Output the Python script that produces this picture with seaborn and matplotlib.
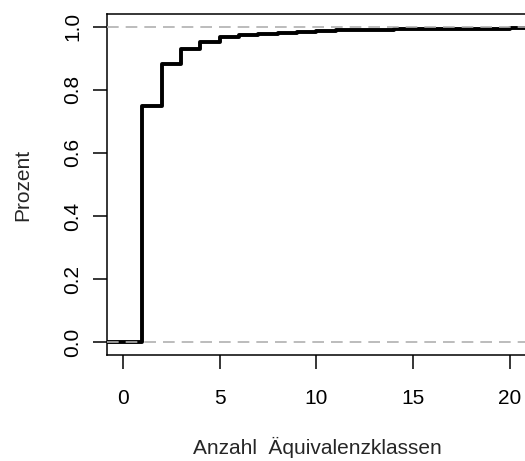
import matplotlib
matplotlib.use("Agg")
import matplotlib.pyplot as plt
import seaborn as sns
import pandas as pd

# Data: empirical CDF of number of equivalence classes
classes = list(range(1, 21))
ecdf = [0.750, 0.882, 0.929, 0.952, 0.966, 0.973, 0.977, 0.981, 0.984, 0.986,
        0.988, 0.989, 0.990, 0.991, 0.992, 0.993, 0.993, 0.994, 0.994, 0.995]
x_ticks = [0, 5, 10, 15, 20]
y_ticks = [0.0, 0.2, 0.4, 0.6, 0.8, 1.0]
y_ticklabels = ["0.0", "0.2", "0.4", "0.6", "0.8", "1.0"]
ref_levels = [0.0, 1.0]
x_label = "Anzahl  Äquivalenzklassen"
y_label = "Prozent"

sns.set_style("white")
plt.rcParams['font.family'] = ['Liberation Sans', 'DejaVu Sans']

xlim = (-0.83, 20.9)
ylim = (-0.04, 1.04)

df = pd.DataFrame({"x": [xlim[0] - 1] + classes + [xlim[1] + 1],
                   "y": [0.0] + ecdf + [ecdf[-1]]})

fig = plt.figure(figsize=(5.25, 4.61), dpi=100)
ax = fig.add_axes([107 / 525, 1 - 355 / 461, (527 - 107) / 525, (355 - 14) / 461])

sns.lineplot(data=df, x="x", y="y", drawstyle="steps-post", color="black",
             linewidth=2.8, ax=ax, solid_capstyle="round")
for lv in ref_levels:
    ax.axhline(lv, color="#b0b0b0", linewidth=1.2, linestyle=(0, (7, 4.2)), zorder=3)

fs = 15
ax.set_xlim(*xlim)
ax.set_ylim(*ylim)
ax.set_xticks(x_ticks)
ax.set_xticklabels([str(t) for t in x_ticks], fontsize=fs)
ax.set_yticks(y_ticks)
ax.set_yticklabels(y_ticklabels, fontsize=fs, rotation=90, va="center")

for s in ax.spines.values():
    s.set_color("black")
    s.set_linewidth(1.1)
ax.tick_params(axis="both", direction="out", length=10, width=1.1, color="black",
               labelcolor="black", bottom=True, left=True)
ax.tick_params(axis="x", pad=14.5)
ax.tick_params(axis="y", pad=8)

ax.set_xlabel(x_label, fontsize=fs)
ax.set_ylabel(y_label, fontsize=fs)
ax.xaxis.set_label_coords(0.5, -0.24)
ax.yaxis.set_label_coords(-0.177, 0.5)

fig.savefig("out.png", dpi=100)
